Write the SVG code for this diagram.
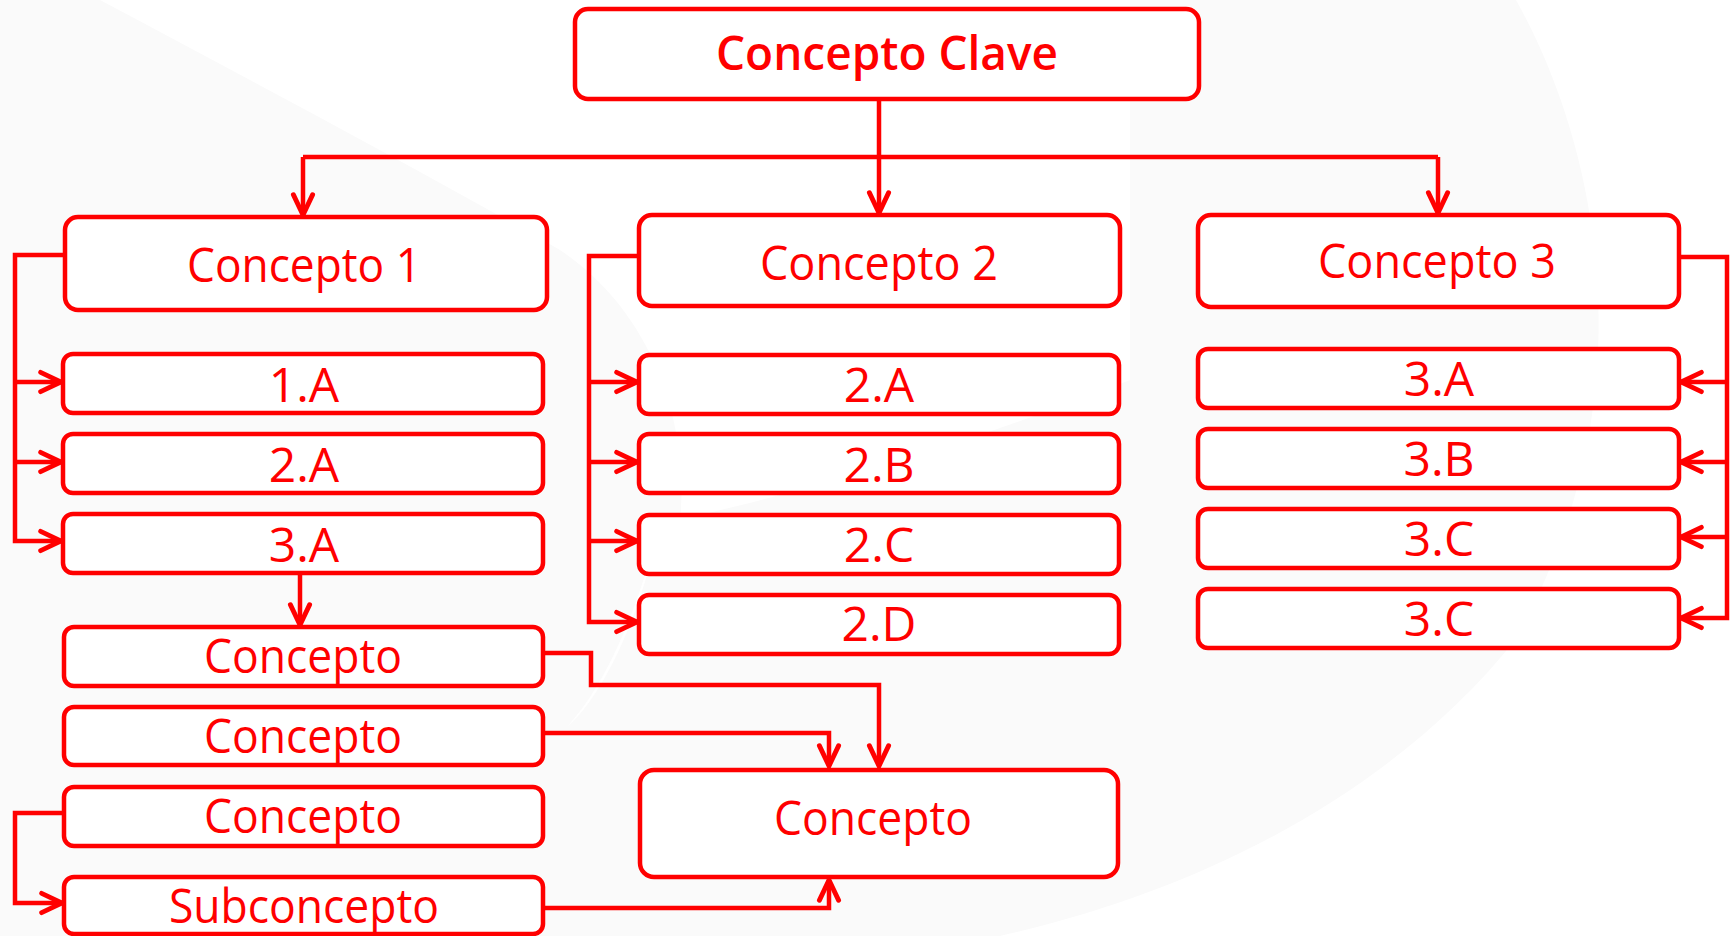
<svg xmlns="http://www.w3.org/2000/svg" width="1733" height="936" viewBox="0 0 1733 936">
<style>
.box{fill:#fff;stroke:#ff0000;stroke-width:4.5}
.lbl{font-family:"Open Sans","Noto Sans","Liberation Sans",sans-serif;font-size:48px;fill:#ff0000;text-anchor:middle}
.bold{font-weight:600;font-size:47px}
.con{fill:none;stroke:#ff0000;stroke-width:4.5;stroke-linejoin:miter}
.arr{marker-end:url(#ah)}
</style>
<defs>
<marker id="ah" markerUnits="userSpaceOnUse" markerWidth="30" markerHeight="30" viewBox="-24 -12 28 24" refX="0" refY="0" orient="auto">
<path d="M-19,-9 L0,0 L-19,9" fill="none" stroke="#ff0000" stroke-width="4.5" stroke-linecap="round" stroke-linejoin="miter"/>
</marker>
</defs>
<g id="background">
<rect width="1733" height="936" fill="#fafafa"/>
<path fill="#ffffff" d="M100,0 C250,80 420,170 560,250 C650,310 690,420 680,520 C760,500 900,470 1130,380 L1130,0 Z"/>
<path fill="#ffffff" d="M1516,0 C1600,150 1650,400 1515,640 C1420,760 1250,880 1000,936 L1733,936 L1733,0 Z"/>
<path fill="#ffffff" d="M657,533 C640,600 610,680 567,727 C600,700 640,620 657,533 Z"/>
</g>
<g id="connectors">
<path class="con arr" d="M879,99 V213"/>
<path class="con" d="M303,157 H1438"/>
<path class="con arr" d="M303,157 V215"/>
<path class="con arr" d="M1438,157 V213"/>
<path class="con arr" d="M65,255 H15 V541 H61"/>
<path class="con arr" d="M15,382 H61"/>
<path class="con arr" d="M15,462 H61"/>
<path class="con arr" d="M639,256 H589 V622 H637"/>
<path class="con arr" d="M589,382 H637"/>
<path class="con arr" d="M589,462 H637"/>
<path class="con arr" d="M589,541 H637"/>
<path class="con arr" d="M1679,257 H1727 V618 H1681"/>
<path class="con arr" d="M1727,382 H1681"/>
<path class="con arr" d="M1727,462 H1681"/>
<path class="con arr" d="M1727,537 H1681"/>
<path class="con arr" d="M300,573 V625"/>
<path class="con arr" d="M543,653 H591 V685 H879 V766"/>
<path class="con arr" d="M543,733 H829 V766"/>
<path class="con arr" d="M64,813 H15 V903 H62"/>
<path class="con arr" d="M543,908 H829 V880"/>
</g>
<g id="n-clave"><rect class="box" x="575" y="9" width="624" height="90" rx="13"/><text class="lbl bold" x="887" y="70" textLength="342" lengthAdjust="spacingAndGlyphs">Concepto Clave</text></g>
<g id="n-c1"><rect class="box" x="65" y="217" width="482" height="93" rx="13"/><text class="lbl" x="304" y="282" textLength="234" lengthAdjust="spacingAndGlyphs">Concepto 1</text></g>
<g id="n-c2"><rect class="box" x="639" y="215" width="481" height="91" rx="13"/><text class="lbl" x="879" y="280" textLength="238" lengthAdjust="spacingAndGlyphs">Concepto 2</text></g>
<g id="n-c3"><rect class="box" x="1198" y="215" width="481" height="92" rx="13"/><text class="lbl" x="1437" y="278" textLength="238" lengthAdjust="spacingAndGlyphs">Concepto 3</text></g>
<g id="n-1a"><rect class="box" x="63" y="354" width="480" height="59" rx="10"/><text class="lbl" x="304" y="402">1.A</text></g>
<g id="n-l2a"><rect class="box" x="63" y="434" width="480" height="59" rx="10"/><text class="lbl" x="304" y="482">2.A</text></g>
<g id="n-l3a"><rect class="box" x="63" y="514" width="480" height="59" rx="10"/><text class="lbl" x="304" y="562">3.A</text></g>
<g id="n-2a"><rect class="box" x="639" y="355" width="480" height="59" rx="10"/><text class="lbl" x="879" y="402">2.A</text></g>
<g id="n-2b"><rect class="box" x="639" y="434" width="480" height="59" rx="10"/><text class="lbl" x="879" y="482">2.B</text></g>
<g id="n-2c"><rect class="box" x="639" y="515" width="480" height="59" rx="10"/><text class="lbl" x="879" y="562">2.C</text></g>
<g id="n-2d"><rect class="box" x="639" y="595" width="480" height="59" rx="10"/><text class="lbl" x="879" y="641">2.D</text></g>
<g id="n-3a"><rect class="box" x="1198" y="349" width="481" height="59" rx="10"/><text class="lbl" x="1439" y="396">3.A</text></g>
<g id="n-3b"><rect class="box" x="1198" y="429" width="481" height="59" rx="10"/><text class="lbl" x="1439" y="476">3.B</text></g>
<g id="n-3c"><rect class="box" x="1198" y="509" width="481" height="59" rx="10"/><text class="lbl" x="1439" y="556">3.C</text></g>
<g id="n-3c2"><rect class="box" x="1198" y="589" width="481" height="59" rx="10"/><text class="lbl" x="1439" y="636">3.C</text></g>
<g id="n-ca"><rect class="box" x="64" y="627" width="479" height="59" rx="10"/><text class="lbl" x="303" y="673" textLength="198" lengthAdjust="spacingAndGlyphs">Concepto</text></g>
<g id="n-cb"><rect class="box" x="64" y="707" width="479" height="58" rx="10"/><text class="lbl" x="303" y="753" textLength="198" lengthAdjust="spacingAndGlyphs">Concepto</text></g>
<g id="n-cc"><rect class="box" x="64" y="787" width="479" height="59" rx="10"/><text class="lbl" x="303" y="833" textLength="198" lengthAdjust="spacingAndGlyphs">Concepto</text></g>
<g id="n-sub"><rect class="box" x="64" y="877" width="479" height="57" rx="10"/><text class="lbl" x="304" y="923" textLength="270" lengthAdjust="spacingAndGlyphs">Subconcepto</text></g>
<g id="n-big"><rect class="box" x="640" y="770" width="478" height="107" rx="14"/><text class="lbl" x="873" y="835" textLength="198" lengthAdjust="spacingAndGlyphs">Concepto</text></g>
</svg>
